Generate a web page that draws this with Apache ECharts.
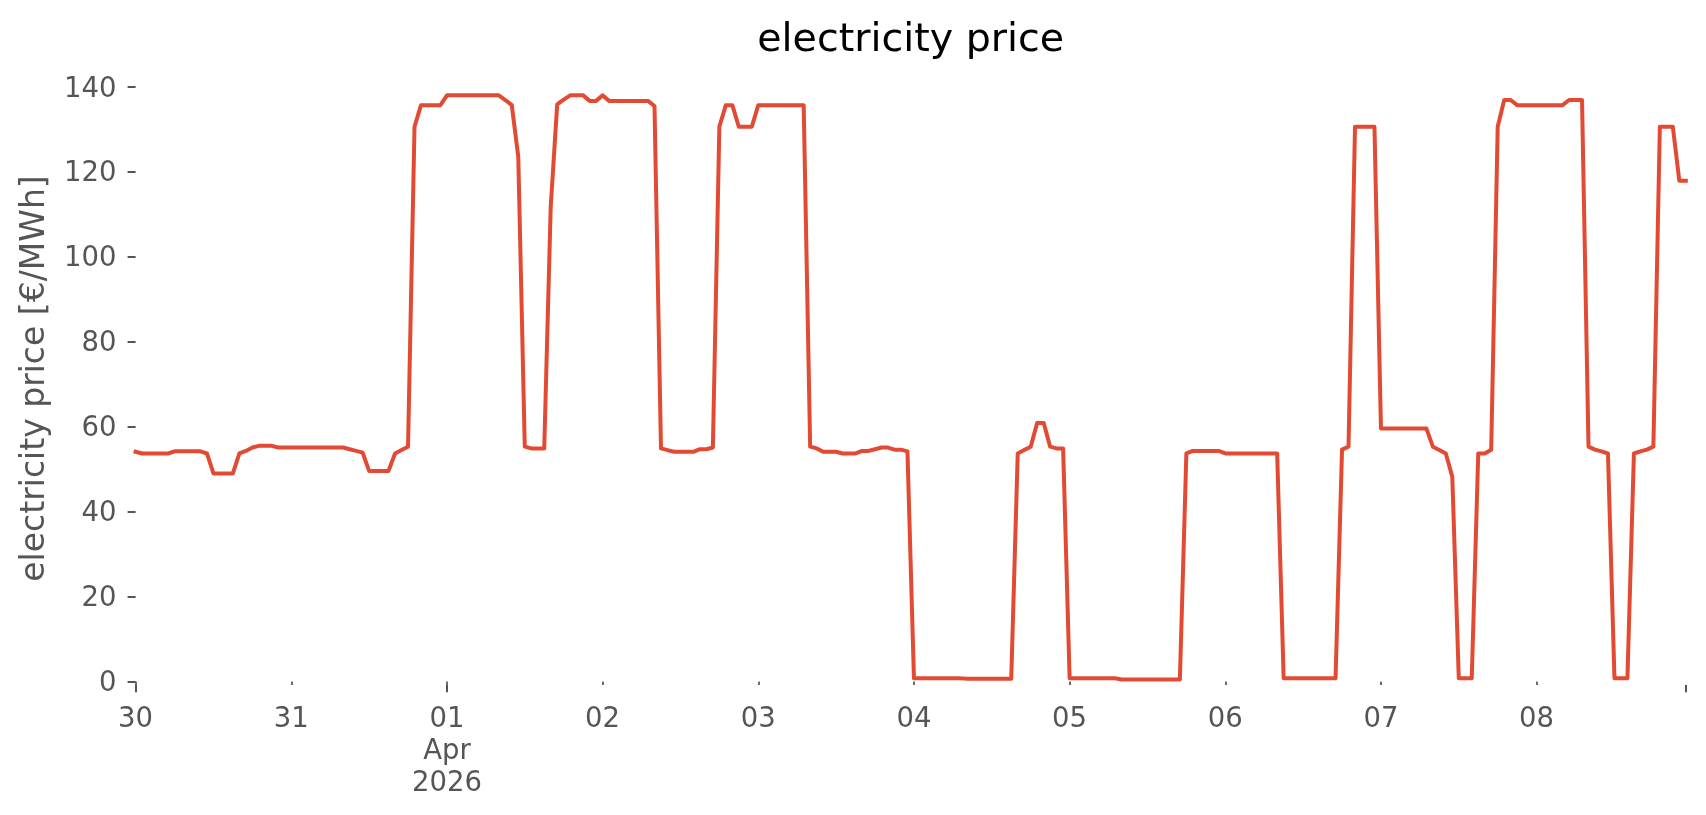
<!DOCTYPE html>
<html>
<head>
<meta charset="utf-8">
<script src="https://cdn.jsdelivr.net/npm/echarts@6/dist/echarts.min.js"></script>
<style>
html,body{margin:0;padding:0;background:#ffffff;}
#chart{width:1706px;height:815px;}
</style>
</head>
<body>
<div id="chart"></div>
<script>
// Hourly electricity prices, 30 Mar 2026 00:00 .. 08 Apr 2026 23:00 (one array per day, 24 values each)
const mar30 = [54.1,53.7,53.7,53.7,53.7,53.7,54.2,54.2,54.2,54.2,54.2,53.7,49.0,49.0,49.0,49.0,53.7,54.3,55.1,55.5,55.5,55.5,55.1,55.1];
const mar31 = [55.1,55.1,55.1,55.1,55.1,55.1,55.1,55.1,55.1,54.7,54.3,53.9,49.6,49.6,49.6,49.6,53.7,54.5,55.3,130.6,135.7,135.7,135.7,135.7];
const apr01 = [138.0,138.0,138.0,138.0,138.0,138.0,138.0,138.0,138.0,136.9,135.7,123.5,55.3,54.9,54.9,54.9,111.8,135.9,137.0,138.0,138.0,138.0,136.7,136.7];
const apr02 = [138.0,136.7,136.7,136.7,136.7,136.7,136.7,136.7,135.5,54.9,54.5,54.1,54.1,54.1,54.1,54.7,54.7,55.1,130.6,135.7,135.7,130.6,130.6,130.6];
const apr03 = [135.7,135.7,135.7,135.7,135.7,135.7,135.7,135.7,55.3,54.9,54.1,54.1,54.1,53.7,53.7,53.7,54.3,54.3,54.7,55.1,55.1,54.6,54.6,54.2];
const apr04 = [0.8,0.8,0.8,0.8,0.8,0.8,0.8,0.8,0.7,0.7,0.7,0.7,0.7,0.7,0.7,0.7,53.7,54.5,55.3,60.9,60.9,55.3,54.9,54.9];
const apr05 = [0.8,0.8,0.8,0.8,0.8,0.8,0.8,0.8,0.5,0.5,0.5,0.5,0.5,0.5,0.5,0.5,0.5,0.5,53.7,54.3,54.3,54.3,54.3,54.3];
const apr06 = [53.7,53.7,53.7,53.7,53.7,53.7,53.7,53.7,53.7,0.8,0.8,0.8,0.8,0.8,0.8,0.8,0.8,0.8,54.6,55.3,130.6,130.6,130.6,130.6];
const apr07 = [59.6,59.6,59.6,59.6,59.6,59.6,59.6,59.6,55.3,54.5,53.7,48.2,0.8,0.8,0.8,53.7,53.7,54.6,130.6,136.9,136.9,135.7,135.7,135.7];
const apr08 = [135.7,135.7,135.7,135.7,135.7,136.9,136.9,136.9,55.3,54.6,54.2,53.7,0.8,0.8,0.8,53.7,54.2,54.6,55.3,130.6,130.6,130.6,117.9,117.9];

const days = [mar30, mar31, apr01, apr02, apr03, apr04, apr05, apr06, apr07, apr08];
const dayLabels = ['30', '31', '01\nApr\n2026', '02', '03', '04', '05', '06', '07', '08'];
const yTicks = [0, 20, 40, 60, 80, 100, 120, 140];

const HOURS_PER_DAY = 24;
const seriesData = [];
days.forEach((arr, d) => arr.forEach((v, h) => seriesData.push([d * HOURS_PER_DAY + h, v])));
const lastHour = seriesData.length - 1;
const dayTickValues = dayLabels.map((_, i) => i * HOURS_PER_DAY);
const majorTickValues = [0, 2 * HOURS_PER_DAY, lastHour];

const FONT = 'DejaVu Sans';
const GREY = '#555555';

const chart = echarts.init(document.getElementById('chart'), null, {renderer: 'canvas'});
chart.setOption({
  animation: false,
  backgroundColor: '#ffffff',
  title: {
    text: 'electricity price',
    left: 910.7,
    top: 20.5,
    padding: 0,
    textAlign: 'center',
    textStyle: {fontFamily: FONT, fontSize: 39.6, fontWeight: 'normal', color: '#000000', lineHeight: 40}
  },
  grid: {left: 135.6, right: 20.2, top: 72, bottom: 130, containLabel: false},
  xAxis: [
    {
      type: 'value', min: 0, max: lastHour,
      axisLine: {show: false},
      splitLine: {show: false},
      axisTick: {show: true, customValues: dayTickValues, length: 3.5, lineStyle: {color: GREY, width: 1.7}},
      axisLabel: {
        customValues: dayTickValues,
        margin: 19,
        fontFamily: FONT, fontSize: 27.5, color: GREY, lineHeight: 32,
        formatter: (v) => dayLabels[Math.round(v / HOURS_PER_DAY)] || ''
      }
    },
    {
      type: 'value', min: 0, max: lastHour, position: 'bottom',
      axisLine: {show: false},
      splitLine: {show: false},
      axisTick: {show: true, customValues: majorTickValues, length: 7.3, lineStyle: {color: GREY, width: 2}},
      axisLabel: {show: false}
    }
  ],
  yAxis: {
    type: 'value', min: -0.8, max: 143.5,
    name: 'electricity price [€/MWh]',
    nameLocation: 'middle',
    nameRotate: 90,
    nameGap: 84,
    nameTextStyle: {fontFamily: FONT, fontSize: 33, color: GREY},
    axisLine: {show: false},
    splitLine: {show: false},
    axisTick: {show: true, customValues: yTicks, length: 8, lineStyle: {color: GREY, width: 2}},
    axisLabel: {customValues: yTicks, margin: 19, verticalAlign: 'top', lineHeight: 5, fontFamily: FONT, fontSize: 27.5, color: GREY}
  },
  series: [{
    type: 'line',
    data: seriesData,
    showSymbol: false,
    xAxisIndex: 0,
    lineStyle: {color: '#E24A33', width: 4, join: 'round', cap: 'square'},
    emphasis: {disabled: true}
  }]
});
</script>
</body>
</html>
